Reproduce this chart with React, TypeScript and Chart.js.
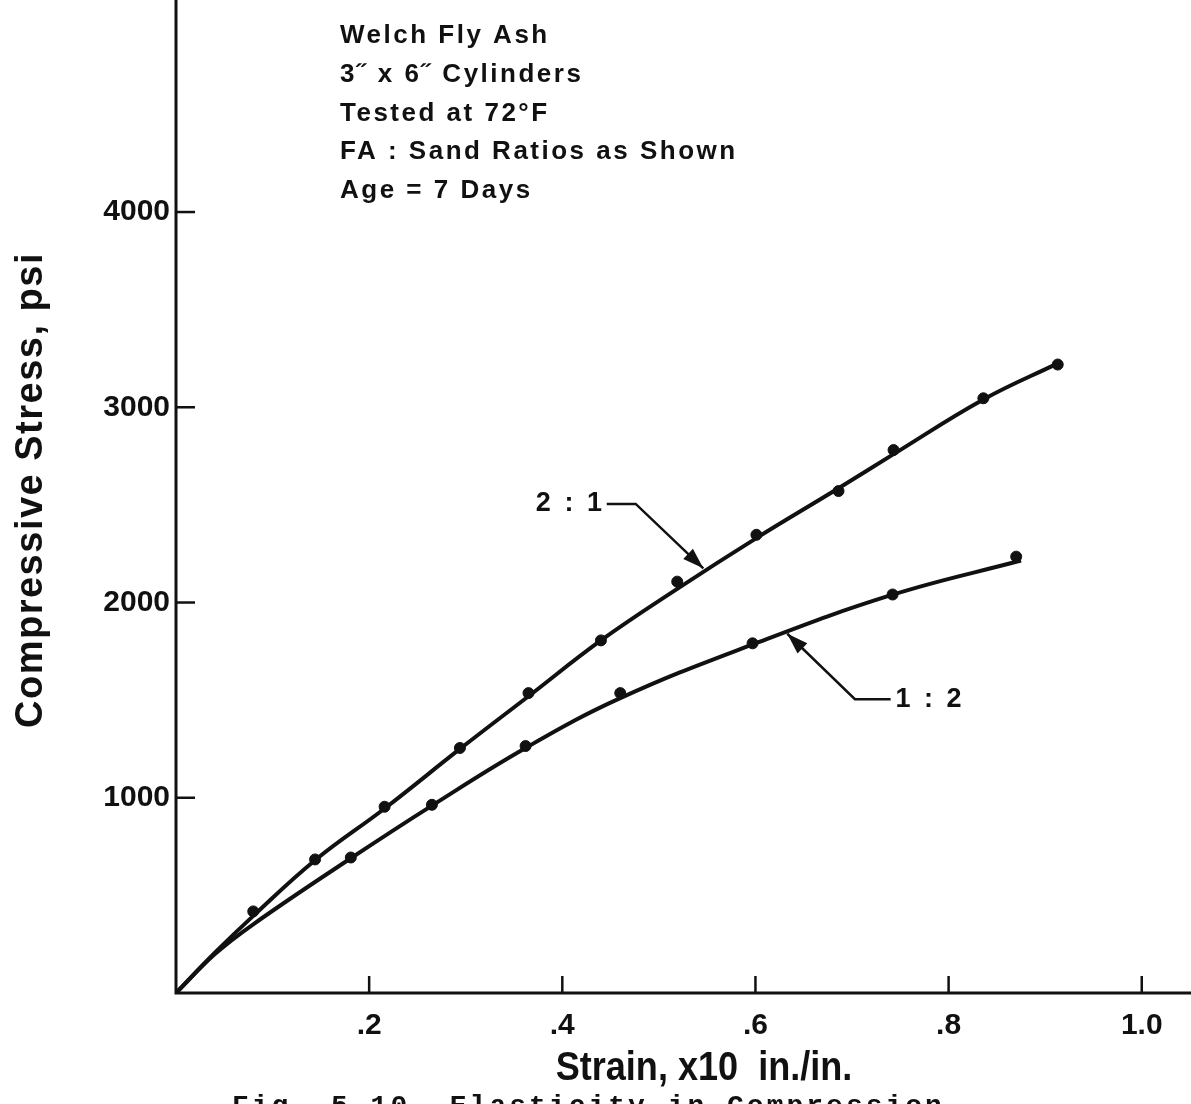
import React, { useEffect, useRef } from "react";
import { Chart, registerables } from "chart.js";

Chart.register(...registerables);

// Measured data points (strain x10 in./in., stress psi)
const strainPts21 = [0.080, 0.144, 0.216, 0.294, 0.365, 0.440, 0.519, 0.601, 0.686, 0.743, 0.836, 0.913];
const stressPts21 = [418, 684, 954, 1255, 1536, 1806, 2107, 2347, 2571, 2781, 3046, 3219];
const strainPts12 = [0.181, 0.265, 0.362, 0.460, 0.597, 0.742, 0.870];
const stressPts12 = [694, 964, 1265, 1536, 1791, 2041, 2235];

// Fitted curves as drawn in the figure
const strainCurve21 = [0, 0.04, 0.08, 0.144, 0.216, 0.294, 0.365, 0.440, 0.519, 0.601, 0.686, 0.743, 0.836, 0.913];
const stressCurve21 = [0, 205, 395, 680, 945, 1250, 1520, 1806, 2070, 2330, 2585, 2760, 3040, 3225];
const strainCurve12 = [0, 0.04, 0.08, 0.181, 0.265, 0.362, 0.460, 0.597, 0.742, 0.875];
const stressCurve12 = [0, 198, 352, 690, 960, 1255, 1510, 1785, 2040, 2215];

const xTickValues = [0.2, 0.4, 0.6, 0.8, 1.0];
const xTickLabels = [".2", ".4", ".6", ".8", "1.0"];
const yTickValues = [1000, 2000, 3000, 4000];
const yTickLabels = ["1000", "2000", "3000", "4000"];

const noteLines = [
  "Welch Fly Ash",
  "3\u02DD x 6\u02DD Cylinders",
  "Tested at 72\u00B0F",
  "FA : Sand Ratios as Shown",
  "Age = 7 Days",
];
const label21 = "2 : 1";
const label12 = "1 : 2";
const xTitle = "Strain, x10  in./in.";
const yTitle = "Compressive Stress, psi";
const caption = "Fig. 5.10  Elasticity in Compression";

const SANS = "'Liberation Sans', Arial, Helvetica, sans-serif";

const toXY = (xs: number[], ys: number[]) => xs.map((x, i) => ({ x, y: ys[i] }));

function arrow(ctx: CanvasRenderingContext2D, pts: number[][]) {
  ctx.beginPath();
  ctx.moveTo(pts[0][0], pts[0][1]);
  for (let i = 1; i < pts.length; i++) ctx.lineTo(pts[i][0], pts[i][1]);
  ctx.stroke();
  const [tx, ty] = pts[pts.length - 1];
  const [px, py] = pts[pts.length - 2];
  const ang = Math.atan2(ty - py, tx - px);
  const L = 21, W = 7;
  ctx.beginPath();
  ctx.moveTo(tx, ty);
  ctx.lineTo(tx - L * Math.cos(ang) + W * Math.sin(ang), ty - L * Math.sin(ang) - W * Math.cos(ang));
  ctx.lineTo(tx - L * Math.cos(ang) - W * Math.sin(ang), ty - L * Math.sin(ang) + W * Math.cos(ang));
  ctx.closePath();
  ctx.fill();
}

const decorPlugin = {
  id: "decor",
  afterDraw(chart: any) {
    const { ctx, chartArea } = chart;
    const xs = chart.scales.x;
    const ys = chart.scales.y;
    const X = (v: number) => xs.getPixelForValue(v);
    const Y = (v: number) => ys.getPixelForValue(v);
    ctx.save();
    ctx.strokeStyle = "#111";
    ctx.fillStyle = "#111";
    ctx.lineCap = "butt";
    // axes
    ctx.lineWidth = 3;
    ctx.beginPath();
    ctx.moveTo(chartArea.left, chartArea.top);
    ctx.lineTo(chartArea.left, chartArea.bottom);
    ctx.lineTo(chartArea.right, chartArea.bottom);
    ctx.stroke();
    // inward ticks
    ctx.lineWidth = 2.5;
    xTickValues.forEach((v) => {
      ctx.beginPath();
      ctx.moveTo(X(v), chartArea.bottom);
      ctx.lineTo(X(v), chartArea.bottom - 17);
      ctx.stroke();
    });
    yTickValues.forEach((v) => {
      ctx.beginPath();
      ctx.moveTo(chartArea.left, Y(v));
      ctx.lineTo(chartArea.left + 19, Y(v));
      ctx.stroke();
    });
    // annotation 2:1
    ctx.lineWidth = 2.5;
    arrow(ctx, [
      [X(0.446), Y(2505)],
      [X(0.476), Y(2505)],
      [X(0.546), Y(2175)],
    ]);
    ctx.font = `bold 27px ${SANS}`;
    (ctx as any).letterSpacing = "3px";
    ctx.textBaseline = "middle";
    ctx.textAlign = "left";
    const w21 = ctx.measureText(label21).width - 3;
    ctx.fillText(label21, X(0.441) - w21, Y(2505));
    // annotation 1:2
    arrow(ctx, [
      [X(0.740), Y(1505)],
      [X(0.703), Y(1505)],
      [X(0.633), Y(1840)],
    ]);
    ctx.fillText(label12, X(0.745), Y(1505));
    // note block
    ctx.font = `bold 26px ${SANS}`;
    (ctx as any).letterSpacing = "2.5px";
    const noteY = [36, 75, 114, 152, 191];
    noteLines.forEach((t, i) => ctx.fillText(t, 340, chartArea.top + noteY[i]));
    // y title (rotated)
    ctx.save();
    ctx.translate(32, 490);
    ctx.rotate(-Math.PI / 2);
    ctx.font = `bold 38px ${SANS}`;
    (ctx as any).letterSpacing = "1.5px";
    ctx.textAlign = "center";
    ctx.fillText(yTitle, 0, 0);
    ctx.restore();
    // x title (tall, slightly condensed)
    ctx.save();
    ctx.translate(704, 1069);
    ctx.scale(0.88, 1);
    ctx.font = `bold 41px ${SANS}`;
    (ctx as any).letterSpacing = "0px";
    ctx.textAlign = "center";
    ctx.fillText(xTitle, 0, 0);
    ctx.restore();
    // caption (cut off at bottom)
    (ctx as any).letterSpacing = "3px";
    ctx.font = `bold 28px 'Liberation Mono', 'DejaVu Sans Mono', monospace`;
    ctx.textAlign = "left";
    ctx.textBaseline = "alphabetic";
    ctx.fillText(caption, 232, 1114);
    ctx.restore();
    (ctx as any).letterSpacing = "0px";
  },
};

export default function App() {
  const ref = useRef<HTMLCanvasElement>(null);
  useEffect(() => {
    const canvas = ref.current!;
    const chart = new Chart(canvas, {
      type: "scatter",
      data: {
        datasets: [
          {
            type: "line",
            label: "2:1 curve",
            data: toXY(strainCurve21, stressCurve21),
            borderColor: "#111",
            borderWidth: 4,
            pointRadius: 0,
            tension: 0.4,
            fill: false,
          } as any,
          {
            type: "line",
            label: "1:2 curve",
            data: toXY(strainCurve12, stressCurve12),
            borderColor: "#111",
            borderWidth: 4,
            pointRadius: 0,
            tension: 0.4,
            fill: false,
          } as any,
          {
            label: "2:1",
            data: toXY(strainPts21, stressPts21),
            backgroundColor: "#111",
            borderColor: "#111",
            pointRadius: 5.5,
            showLine: false,
          },
          {
            label: "1:2",
            data: toXY(strainPts12, stressPts12),
            backgroundColor: "#111",
            borderColor: "#111",
            pointRadius: 5.5,
            showLine: false,
          },
        ],
      },
      options: {
        animation: false,
        responsive: false,
        devicePixelRatio: 1,
        layout: { padding: 0, autoPadding: false },
        plugins: { legend: { display: false }, tooltip: { enabled: false } },
        scales: {
          x: {
            type: "linear",
            min: 0,
            max: 1.051,
            border: { display: false },
            grid: { display: false, drawTicks: false },
            afterBuildTicks: (s: any) => {
              s.ticks = xTickValues.map((v) => ({ value: v }));
            },
            afterFit: (s: any) => {
              s.height = 111;
              s.paddingLeft = 0;
              s.paddingRight = 0;
            },
            ticks: {
              autoSkip: false,
              maxRotation: 0,
              padding: 15,
              color: "#111",
              font: { family: SANS, size: 30, weight: "bold" },
              callback: (v: any) => {
                const i = xTickValues.findIndex((t) => Math.abs(t - v) < 1e-6);
                return i >= 0 ? xTickLabels[i] : "";
              },
            },
            title: { display: false },
          },
          y: {
            type: "linear",
            min: 0,
            max: 5086,
            border: { display: false },
            grid: { display: false, drawTicks: false },
            afterBuildTicks: (s: any) => {
              s.ticks = yTickValues.map((v) => ({ value: v }));
            },
            afterFit: (s: any) => {
              s.width = 176;
              s.paddingTop = 0;
              s.paddingBottom = 0;
            },
            ticks: {
              autoSkip: false,
              padding: 6,
              color: "#111",
              font: { family: SANS, size: 30, weight: "bold" },
              callback: (v: any) => {
                const i = yTickValues.indexOf(v);
                return i >= 0 ? yTickLabels[i] : "";
              },
            },
            title: { display: false },
          },
        },
      },
      plugins: [decorPlugin],
    });
    return () => chart.destroy();
  }, []);
  return (
    <div style={{ position: "absolute", left: 0, top: 0, width: 1191, height: 1104, background: "#fff", overflow: "hidden" }}>
      <canvas ref={ref} width={1191} height={1104} style={{ width: 1191, height: 1104, display: "block" }} />
    </div>
  );
}
